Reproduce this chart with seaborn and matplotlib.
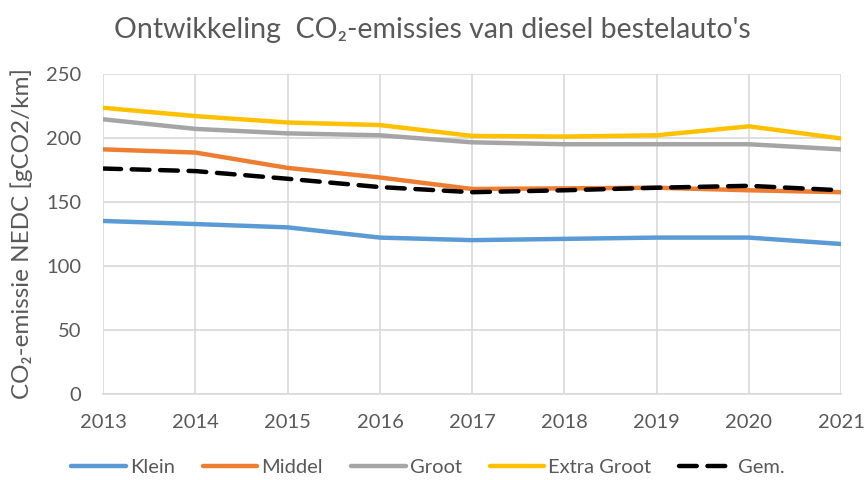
import matplotlib
matplotlib.use("Agg")
import matplotlib.pyplot as plt
import seaborn as sns
import pandas as pd

years = [2013, 2014, 2015, 2016, 2017, 2018, 2019, 2020, 2021]
klein = [135, 132.6, 130, 122, 120, 121, 122, 122, 117]
middel = [191, 188.5, 176.5, 169, 160, 160.5, 161, 159, 157.5]
groot = [214.5, 207, 203.5, 202, 196.5, 195, 195, 195, 191]
extra_groot = [223.5, 217, 212, 210, 201.5, 201, 202, 209, 199.5]
gem = [176, 174, 168, 161.5, 157.5, 159, 161, 162.5, 159]
series_names = ["Klein", "Middel", "Groot", "Extra Groot", "Gem."]
colors = ["#5B9BD5", "#ED7D31", "#A5A5A5", "#FFC000", "#000000"]
yticks = [0, 50, 100, 150, 200, 250]

sns.set_style("white")
plt.rcParams['font.family'] = ['Lato', 'DejaVu Sans']

fig = plt.figure(figsize=(8.64, 4.8), dpi=100)
ax = fig.add_axes([0.1195, 0.18, 0.854, 0.666])

data = [klein, middel, groot, extra_groot, gem]
for name, vals, col in zip(series_names, data, colors):
    df = pd.DataFrame({"year": years, "value": vals})
    sns.lineplot(data=df, x="year", y="value", ax=ax, color=col, lw=3.2,
                 label=name)
    if name == "Gem.":
        ax.lines[-1].set_dashes((4, 2.4))
        ax.lines[-1].set_dash_capstyle("round")

ax.set_xlim(2013, 2021)
ax.set_ylim(0, 250)
ax.set_xticks(years)
ax.set_yticks(yticks)
ax.grid(True, color="#D9D9D9", lw=1.2)
ax.set_axisbelow(True)
for s in ["top", "right", "left"]:
    ax.spines[s].set_visible(False)
ax.spines["bottom"].set_color("#D9D9D9")
ax.spines["bottom"].set_linewidth(1.2)
ax.tick_params(axis="both", length=0, labelsize=14.5, colors="#595959")
ax.tick_params(axis="x", pad=15)
ax.tick_params(axis="y", pad=16)
ax.set_xlabel("")
ax.set_ylabel("CO\u2082-emissie NEDC [gCO2/km]", fontsize=17.5, color="#595959", labelpad=9)

fig.suptitle("Ontwikkeling  CO\u2082-emissies van diesel bestelauto's", x=0.5, y=0.9375,
             va="center", fontsize=20.5, color="#595959")

handles, labels = ax.get_legend_handles_labels()
leg = ax.legend(handles, labels, loc="center", bbox_to_anchor=(0.44, -0.23), ncol=5,
                frameon=False, fontsize=14.5, handlelength=2.7, handletextpad=0.2,
                columnspacing=1.4, labelcolor="#595959")

fig.savefig("out.png", dpi=100, facecolor="white")
